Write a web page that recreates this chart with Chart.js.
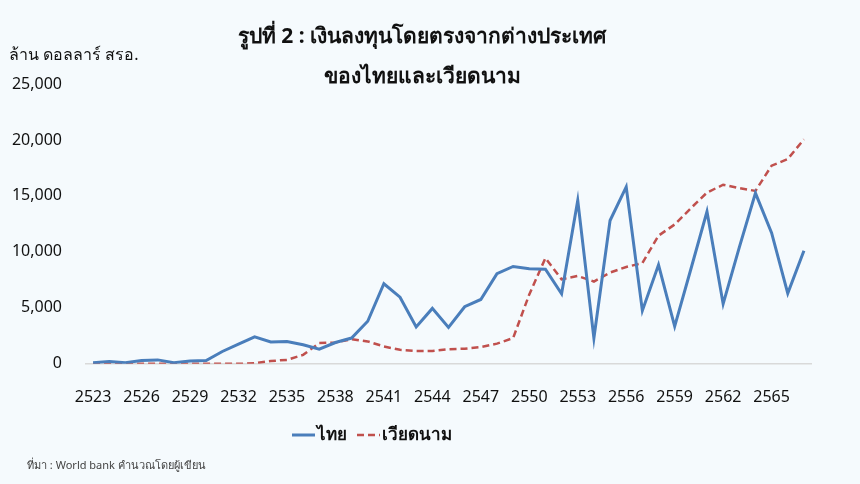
<!DOCTYPE html>
<html>
<head>
<meta charset="utf-8">
<script src="https://cdn.jsdelivr.net/npm/chart.js@4.4.1/dist/chart.umd.min.js"></script>
<style>
  html, body { margin: 0; padding: 0; background: #f5fafd; }
  #wrap { width: 860px; height: 484px; }
</style>
</head>
<body>
<div id="wrap"><canvas id="fdiChart" width="860" height="484"></canvas></div>
<script>
// ปี พ.ศ. 2523 - 2567
const years = [
    2523, 2524, 2525, 2526, 2527, 2528, 2529, 2530, 2531, 2532,
    2533, 2534, 2535, 2536, 2537, 2538, 2539, 2540, 2541, 2542,
    2543, 2544, 2545, 2546, 2547, 2548, 2549, 2550, 2551, 2552,
    2553, 2554, 2555, 2556, 2557, 2558, 2559, 2560, 2561, 2562,
    2563, 2564, 2565, 2566, 2567,
];

// ล้านดอลลาร์ สรอ. (อ่านค่าจากกราฟ)
const thailand = [
    100, 200, 100, 300, 350, 100, 250, 300, 1100, 1750,
    2400, 1950, 2000, 1700, 1300, 1900, 2300, 3800, 7150, 5950,
    3300, 4950, 3250, 5100, 5750, 8050, 8700, 8500, 8450, 6250,
    14600, 2300, 12800, 15800, 4750, 8850, 3350, 8450, 13600, 5350,
    10400, 15250, 11700, 6300, 10100,
];

const vietnam = [
    0, 0, 0, 0, 0, 0, 0, 0, 0, 0,
    50, 250, 350, 800, 1850, 1900, 2200, 2000, 1550, 1250,
    1150, 1150, 1300, 1350, 1500, 1800, 2300, 6200, 9450, 7550,
    7850, 7350, 8150, 8650, 9000, 11450, 12450, 13900, 15300, 16000,
    15700, 15450, 17700, 18300, 20050,
];

const seriesNames = ["ไทย", "เวียดนาม"];
const yTicks = [0, 5000, 10000, 15000, 20000, 25000];

const titleLines = [
    "รูปที่ 2 : เงินลงทุนโดยตรงจากต่างประเทศ",
    "ของไทยและเวียดนาม",
];
const unitText = "ล้าน ดอลลาร์ สรอ.";
const sourceText = "ที่มา : World bank คำนวณโดยผู้เขียน";

const FONT = "'Noto Sans', 'Open Sans', sans-serif";

// title, unit, legend and source note
const decorations = {
    id: "decorations",
    afterDraw(chart) {
        const ctx = chart.ctx;
        ctx.save();
        ctx.fillStyle = "#111";
        ctx.textBaseline = "middle";

        ctx.textAlign = "center";
        ctx.font = "bold 21px " + FONT;
        ctx.fillText(titleLines[0], 422, 37);
        ctx.fillText(titleLines[1], 422, 77);

        ctx.textAlign = "left";
        ctx.font = "16px " + FONT;
        ctx.fillText(unitText, 9, 55);

        ctx.font = "11px " + FONT;
        ctx.fillStyle = "#444";
        ctx.fillText(sourceText, 27, 466);

        // legend
        ctx.font = "bold 17px " + FONT;
        ctx.fillStyle = "#111";
        const lineW = 23, gapText = 2, gapItem = 10, ly = 435;
        const ds = chart.data.datasets;
        let total = 0;
        ds.forEach((d, i) => {
            total += lineW + gapText + ctx.measureText(d.label).width;
            if (i < ds.length - 1) total += gapItem;
        });
        let x = 372 - total / 2;
        ds.forEach((d) => {
            ctx.beginPath();
            ctx.strokeStyle = d.borderColor;
            ctx.lineWidth = d.borderWidth;
            ctx.setLineDash(d.borderDash || []);
            ctx.moveTo(x, ly);
            ctx.lineTo(x + lineW, ly);
            ctx.stroke();
            ctx.setLineDash([]);
            x += lineW + gapText;
            ctx.fillText(d.label, x, ly);
            x += ctx.measureText(d.label).width + gapItem;
        });
        ctx.restore();
    },
};

const bgPlugin = {
    id: "bg",
    beforeDraw(chart) {
        const ctx = chart.ctx;
        ctx.save();
        ctx.fillStyle = "#f5fafd";
        ctx.fillRect(0, 0, chart.width, chart.height);
        ctx.restore();
    },
};

new Chart(document.getElementById("fdiChart"), {
    type: "line",
    data: {
        labels: years,
        datasets: [
            {
                label: seriesNames[0],
                data: thailand,
                borderColor: "#4a7ebb",
                borderWidth: 3,
                pointRadius: 0,
                tension: 0,
                fill: false,
            },
            {
                label: seriesNames[1],
                data: vietnam,
                borderColor: "#c0504d",
                borderWidth: 2.5,
                borderDash: [7, 4],
                pointRadius: 0,
                tension: 0,
                fill: false,
            },
        ],
    },
    options: {
        responsive: false,
        animation: false,
        layout: {
            padding: { top: 84, left: 0, right: 48, bottom: 53 },
        },
        plugins: {
            legend: { display: false },
            tooltip: { enabled: false },
            title: { display: false },
        },
        scales: {
            x: {
                offset: true,
                grid: { display: false, drawTicks: false },
                border: { display: false },
                ticks: {
                    autoSkip: false,
                    maxRotation: 0,
                    padding: 24,
                    color: "#111",
                    font: { family: FONT, size: 16 },
                    callback: function (value, index) {
                        return index % 3 === 0 ? years[index] : "";
                    },
                },
            },
            y: {
                min: yTicks[0],
                max: yTicks[yTicks.length - 1],
                afterFit: function (scale) {
                    scale.width = 85;
                },
                afterBuildTicks: function (scale) {
                    scale.ticks = yTicks.map((v) => ({ value: v }));
                },
                grid: {
                    drawTicks: false,
                    color: (c) => (c.tick && c.tick.value === 0 ? "#d9d9d9" : "rgba(0,0,0,0)"),
                    lineWidth: 1.5,
                },
                border: { display: false },
                ticks: {
                    padding: 23,
                    color: "#111",
                    font: { family: FONT, size: 16 },
                    callback: function (value) {
                        return value.toLocaleString("en-US");
                    },
                },
            },
        },
    },
    plugins: [bgPlugin, decorations],
});
</script>
</body>
</html>
